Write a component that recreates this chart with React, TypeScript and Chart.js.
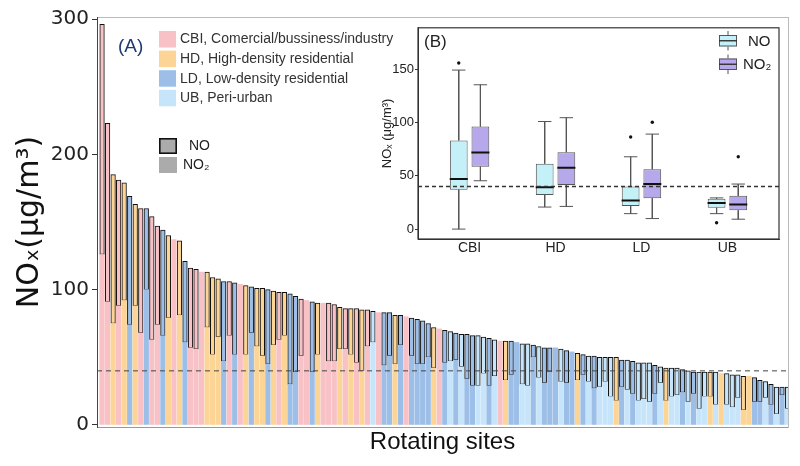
import React, { useEffect, useRef } from 'react';
import { Chart, registerables } from 'chart.js';

Chart.register(...registerables);

// ---------------- Panel (A) data ----------------
const SITE_CATEGORY = [
  'CBI', 'CBI', 'HD', 'CBI', 'HD', 'LD', 'HD', 'CBI', 'LD', 'CBI',
  'CBI', 'LD', 'HD', 'CBI', 'HD', 'LD', 'CBI', 'CBI', 'CBI', 'HD',
  'HD', 'HD', 'LD', 'CBI', 'LD', 'CBI', 'HD', 'LD', 'HD', 'HD',
  'LD', 'HD', 'CBI', 'HD', 'LD', 'LD', 'CBI', 'CBI', 'LD', 'HD',
  'CBI', 'CBI', 'CBI', 'HD', 'CBI', 'HD', 'CBI', 'HD', 'CBI', 'UB',
  'CBI', 'LD', 'LD', 'HD', 'LD', 'CBI', 'LD', 'LD', 'LD', 'LD',
  'HD', 'CBI', 'LD', 'UB', 'LD', 'UB', 'LD', 'LD', 'UB', 'UB',
  'LD', 'UB', 'CBI', 'HD', 'LD', 'LD', 'UB', 'UB', 'LD', 'UB',
  'LD', 'LD', 'LD', 'UB', 'LD', 'LD', 'HD', 'LD', 'UB', 'LD',
  'UB', 'UB', 'UB', 'HD', 'LD', 'UB', 'LD', 'UB', 'UB', 'UB',
  'LD', 'UB', 'HD', 'UB', 'UB', 'LD', 'UB', 'LD', 'UB', 'UB',
  'HD', 'UB', 'HD', 'UB', 'UB', 'UB', 'HD', 'HD', 'LD', 'LD',
  'UB', 'LD', 'UB', 'LD', 'UB',
];

const NO2_VALUES = [
  126, 91, 75, 88, 92, 74, 88, 68, 100, 63,
  74, 66, 79, 137, 81, 61, 57, 56, 113, 72,
  52, 65, 47, 66, 52, 104, 52, 68, 58, 51,
  45, 59, 63, 66, 30, 39, 51, 92, 39, 52,
  90, 47, 47, 56, 56, 52, 46, 40, 58, 61,
  83, 44, 51, 45, 59, 80, 51, 45, 45, 50,
  42, 71, 46, 47, 48, 43, 34, 29, 29, 38,
  29, 36, 62, 33, 37, 61, 30, 29, 50, 35,
  31, 39, 57, 32, 31, 54, 33, 37, 32, 27,
  28, 32, 21, 18, 28, 26, 23, 18, 19, 17,
  23, 31, 18, 21, 22, 24, 17, 23, 12, 21,
  21, 15, 38, 15, 13, 20, 11, 36, 17, 17,
  20, 15, 8, 22, 12,
];

const NO_VALUES = [
  170, 132, 110, 93, 87, 95, 75, 92, 60, 91,
  73, 78, 61, null, 55, 60, 59, 59, null, 41,
  57, 43, 59, 40, 53, null, 51, 34, 43, 50,
  55, 40, 35, 32, 67, 56, 42, null, 52, 38,
  null, 43, 42, 31, 30, 34, 40, 45, 27, 23,
  null, 39, 32, 36, 22, null, 28, 33, 32, 25,
  30, null, 24, 22, 20, 24, 33, 37, 37, 27,
  35, 27, null, 29, 25, null, 30, 31, 9, 23,
  26, 18, null, 24, 24, null, 20, 15, 19, 24,
  22, 18, 29, 32, 20, 22, 24, 28, 27, 29,
  21, 12, 24, 21, 20, 17, 23, 16, 27, 18,
  18, 24, null, 23, 24, 17, 25, null, 18, 16,
  12, 15, 20, 6, 16,
];

const Y_TICKS = [0, 100, 200, 300];
const LIMIT_VALUE = 40;

const CATEGORY_KEYS = ['CBI', 'HD', 'LD', 'UB'];
const CATEGORY_LABELS = [
  'CBI, Comercial/bussiness/industry',
  'HD, High-density residential',
  'LD, Low-density residential',
  'UB, Peri-urban',
];
const CATEGORY_COLORS = ['#f7c1c6', '#fcd496', '#9dbfe7', '#c7e5fa'];

// ---------------- Panel (B) data ----------------
const GROUPS = ['CBI', 'HD', 'LD', 'UB'];
const NO_LOW = [0, 20.7, 14.5, 14.5];
const NO_Q1 = [37, 32, 21.6, 20];
const NO_MEDIAN = [47, 39.2, 26.9, 24.4];
const NO_Q3 = [83.3, 61.4, 40.1, 28.4];
const NO_HIGH = [149.3, 101, 67.9, 29.3];
const NO_OUTLIERS = [[156], [], [86.5], [5.9]];

const NO2_LOW = [45.4, 21.3, 9.9, 9.3];
const NO2_Q1 = [58.6, 41.4, 29, 17.6];
const NO2_MEDIAN = [72, 57.7, 42.3, 23.1];
const NO2_Q3 = [96.3, 72.2, 56.2, 31.2];
const NO2_HIGH = [135.5, 104.6, 89.2, 42.3];
const NO2_OUTLIERS = [[], [], [100.3], [67.9]];

const INSET_TICKS = [0, 50, 100, 150];

const NO_BOX_COLOR = '#c4f0f8';
const NO2_BOX_COLOR = '#b6a8ea';

const FONT = '"Liberation Sans", Arial, Helvetica, sans-serif';
const WIDE_FONT = '"DejaVu Sans", "Liberation Sans", sans-serif';

const DODGE = 0.126;
const BOX_HALF = 0.105;
const CAP_HALF = 0.078;

const colorFor = (c: string) => CATEGORY_COLORS[CATEGORY_KEYS.indexOf(c)];

function whiskerPoints(offset: number, low: number[], q1: number[], q3: number[], high: number[]) {
  const pts: any[] = [];
  GROUPS.forEach((_, i) => {
    const x = i + 1 + offset;
    pts.push({ x, y: high[i] }, { x, y: q3[i] }, { x, y: null });
    pts.push({ x, y: q1[i] }, { x, y: low[i] }, { x, y: null });
    pts.push({ x: x - CAP_HALF, y: high[i] }, { x: x + CAP_HALF, y: high[i] }, { x, y: null });
    pts.push({ x: x - CAP_HALF, y: low[i] }, { x: x + CAP_HALF, y: low[i] }, { x, y: null });
  });
  return pts;
}

function medianPoints(offset: number, med: number[]) {
  const pts: any[] = [];
  GROUPS.forEach((_, i) => {
    const x = i + 1 + offset;
    pts.push({ x: x - BOX_HALF, y: med[i] }, { x: x + BOX_HALF, y: med[i] }, { x, y: null });
  });
  return pts;
}

function outlierPoints(offset: number, out: number[][]) {
  const pts: any[] = [];
  out.forEach((arr, i) => arr.forEach((v) => pts.push({ x: i + 1 + offset, y: v })));
  return pts;
}

const mainDecor = {
  id: 'mainDecor',
  afterDraw(chart: any) {
    const ctx = chart.ctx;
    ctx.save();
    ctx.textBaseline = 'middle';
    ctx.textAlign = 'left';
    ctx.font = `19px ${FONT}`;
    ctx.fillStyle = '#1f3a70';
    ctx.fillText('(A)', 118, 47);

    ctx.font = `14px ${FONT}`;
    CATEGORY_LABELS.forEach((label, i) => {
      const y = 31 + i * 19.6;
      ctx.fillStyle = CATEGORY_COLORS[i];
      ctx.fillRect(159, y, 17, 16.5);
      ctx.fillStyle = '#333';
      ctx.fillText(label, 180, y + 8.5);
    });

    ctx.fillStyle = '#ababab';
    ctx.fillRect(159, 138, 18, 16);
    ctx.strokeStyle = '#111';
    ctx.lineWidth = 1.6;
    ctx.strokeRect(159.8, 138.8, 16.4, 14.4);
    ctx.fillStyle = '#ababab';
    ctx.fillRect(159, 157, 18, 16);
    ctx.fillStyle = '#222';
    ctx.fillText('NO', 189, 146.5);
    ctx.fillText('NO₂', 183, 165);
    ctx.restore();
  },
};

const insetDecor = {
  id: 'insetDecor',
  afterDraw(chart: any) {
    const ctx = chart.ctx;
    const a = chart.chartArea;
    ctx.save();
    ctx.strokeStyle = '#333';
    ctx.lineWidth = 1.2;
    ctx.strokeRect(a.left, a.top, a.right - a.left, a.bottom - a.top);

    ctx.textBaseline = 'middle';
    ctx.textAlign = 'left';
    ctx.font = `17px ${FONT}`;
    ctx.fillStyle = '#222';
    ctx.fillText('(B)', 64, 23);

    const keys = [
      { fill: NO_BOX_COLOR, top: 16, label: 'NO', tx: 388 },
      { fill: NO2_BOX_COLOR, top: 39.5, label: 'NO₂', tx: 383 },
    ];
    ctx.font = `15px ${FONT}`;
    keys.forEach((k) => {
      const x0 = 359;
      const w = 18;
      const h = 11.5;
      const cx = x0 + w / 2;
      ctx.strokeStyle = '#555';
      ctx.lineWidth = 1;
      ctx.beginPath();
      ctx.moveTo(cx, k.top - 4);
      ctx.lineTo(cx, k.top);
      ctx.moveTo(cx, k.top + h);
      ctx.lineTo(cx, k.top + h + 4);
      ctx.stroke();
      ctx.fillStyle = k.fill;
      ctx.fillRect(x0, k.top, w, h);
      ctx.strokeRect(x0 + 0.5, k.top + 0.5, w - 1, h - 1);
      ctx.strokeStyle = '#333';
      ctx.lineWidth = 1.4;
      ctx.beginPath();
      ctx.moveTo(x0, k.top + h / 2);
      ctx.lineTo(x0 + w, k.top + h / 2);
      ctx.stroke();
      ctx.fillStyle = '#222';
      ctx.fillText(k.label, k.tx, k.top + h / 2 + 1);
    });
    ctx.restore();
  },
};

export default function App() {
  const mainRef = useRef<HTMLCanvasElement>(null);
  const insetRef = useRef<HTMLCanvasElement>(null);

  useEffect(() => {
    Chart.defaults.font.family = FONT;
    const labels = SITE_CATEGORY.map((_, i) => `Site ${i + 1}`);
    const colors = SITE_CATEGORY.map(colorFor);

    const main = new Chart(mainRef.current as HTMLCanvasElement, {
      type: 'bar',
      data: {
        labels,
        datasets: [
          {
            type: 'line',
            label: 'limit',
            xAxisID: 'x2',
            yAxisID: 'y',
            data: [{ x: 0, y: LIMIT_VALUE }, { x: 1, y: LIMIT_VALUE }] as any,
            borderColor: '#444',
            borderWidth: 1,
            borderDash: [5, 4],
            pointRadius: 0,
            order: 0,
          } as any,
          {
            label: 'NO2',
            xAxisID: 'x',
            data: NO2_VALUES,
            backgroundColor: colors,
            borderWidth: 0,
            barThickness: 4.6,
            order: 1,
          },
          {
            label: 'NO',
            xAxisID: 'x',
            data: NO_VALUES as any,
            backgroundColor: colors,
            borderColor: '#111',
            borderWidth: 1,
            borderSkipped: false,
            barThickness: 4.6,
            order: 1,
          },
        ],
      },
      options: {
        responsive: false,
        animation: false,
        events: [],
        layout: { padding: { top: 17, right: 12, left: 0, bottom: 0 } },
        plugins: { legend: { display: false }, tooltip: { enabled: false } },
        scales: {
          x: {
            type: 'category',
            stacked: true,
            offset: true,
            ticks: { display: false },
            grid: { display: true, drawOnChartArea: false, drawTicks: false, offset: true },
            border: { color: '#999', width: 1 },
            title: {
              display: true,
              text: 'Rotating sites',
              font: { family: FONT, size: 24 },
              color: '#111',
              padding: { top: 0, bottom: 9 },
            },
            afterFit: (s: any) => { s.height = 39; },
          },
          x2: {
            type: 'linear',
            position: 'top',
            offset: false,
            min: 0,
            max: 1,
            ticks: { display: false },
            grid: { display: true, drawOnChartArea: false, drawTicks: false, offset: false },
            border: { color: '#bbb', width: 1 },
            afterFit: (s: any) => { s.height = 0; },
          },
          y: {
            stacked: true,
            min: -1.5,
            max: 301.5,
            afterBuildTicks: (s: any) => { s.ticks = Y_TICKS.map((v) => ({ value: v })); },
            afterFit: (s: any) => { s.width = 97; },
            ticks: { font: { family: WIDE_FONT, size: 20 }, color: '#222', padding: 3 },
            grid: { display: true, drawOnChartArea: false, drawTicks: true, tickLength: 5, color: '#333' },
            border: { color: '#444', width: 1 },
            title: {
              display: true,
              text: 'NOₓ(μg/m³)',
              font: { family: WIDE_FONT, size: 30 },
              color: '#111',
              padding: { top: 12, bottom: 0 },
            },
          },
          yR: {
            type: 'linear',
            position: 'right',
            min: 0,
            max: 1,
            ticks: { display: false },
            grid: { display: true, drawOnChartArea: false, drawTicks: false },
            border: { color: '#bbb', width: 1 },
            afterFit: (s: any) => { s.width = 0; },
          },
        },
      } as any,
      plugins: [mainDecor],
    });

    const boxData = (offset: number, q1: number[], q3: number[]) =>
      GROUPS.map((_, i) => ({ x: i + 1 + offset, y: [q1[i], q3[i]] }));

    const inset = new Chart(insetRef.current as HTMLCanvasElement, {
      type: 'bar',
      data: {
        datasets: [
          {
            type: 'line',
            label: 'limit',
            data: [{ x: 0.4, y: LIMIT_VALUE }, { x: 4.6, y: LIMIT_VALUE }],
            borderColor: '#333',
            borderWidth: 1.3,
            borderDash: [4, 3],
            pointRadius: 0,
            order: 0,
          } as any,
          {
            type: 'line',
            label: 'NO median',
            data: medianPoints(-DODGE, NO_MEDIAN),
            borderColor: '#111',
            borderWidth: 2,
            pointRadius: 0,
            spanGaps: false,
            order: 1,
          } as any,
          {
            type: 'line',
            label: 'NO2 median',
            data: medianPoints(DODGE, NO2_MEDIAN),
            borderColor: '#111',
            borderWidth: 2,
            pointRadius: 0,
            spanGaps: false,
            order: 1,
          } as any,
          {
            type: 'scatter',
            label: 'outliers',
            data: [...outlierPoints(-DODGE, NO_OUTLIERS), ...outlierPoints(DODGE, NO2_OUTLIERS)],
            backgroundColor: '#111',
            borderWidth: 0,
            pointRadius: 1.7,
            order: 2,
          } as any,
          {
            label: 'NO',
            data: boxData(-DODGE, NO_Q1, NO_Q3) as any,
            backgroundColor: NO_BOX_COLOR,
            borderColor: '#555',
            borderWidth: 1,
            borderSkipped: false,
            grouped: false,
            categoryPercentage: 1,
            barPercentage: 0.82,
            order: 3,
          } as any,
          {
            label: 'NO2',
            data: boxData(DODGE, NO2_Q1, NO2_Q3) as any,
            backgroundColor: NO2_BOX_COLOR,
            borderColor: '#555',
            borderWidth: 1,
            borderSkipped: false,
            grouped: false,
            categoryPercentage: 1,
            barPercentage: 0.82,
            order: 3,
          } as any,
          {
            type: 'line',
            label: 'NO whiskers',
            data: whiskerPoints(-DODGE, NO_LOW, NO_Q1, NO_Q3, NO_HIGH),
            borderColor: '#555',
            borderWidth: 1,
            pointRadius: 0,
            spanGaps: false,
            order: 4,
          } as any,
          {
            type: 'line',
            label: 'NO2 whiskers',
            data: whiskerPoints(DODGE, NO2_LOW, NO2_Q1, NO2_Q3, NO2_HIGH),
            borderColor: '#555',
            borderWidth: 1,
            pointRadius: 0,
            spanGaps: false,
            order: 4,
          } as any,
        ],
      },
      options: {
        responsive: false,
        animation: false,
        events: [],
        layout: { padding: { top: 6, right: 7, left: 0, bottom: 0 } },
        plugins: { legend: { display: false }, tooltip: { enabled: false } },
        scales: {
          x: {
            type: 'linear',
            offset: false,
            min: 0.4,
            max: 4.6,
            afterBuildTicks: (s: any) => { s.ticks = GROUPS.map((_, i) => ({ value: i + 1 })); },
            ticks: {
              callback: (_v: any, i: number) => GROUPS[i],
              font: { family: FONT, size: 14 },
              color: '#222',
              padding: 1,
              maxRotation: 0,
            },
            grid: { display: true, drawOnChartArea: false, drawTicks: false, offset: false },
            border: { color: '#333', width: 1 },
            afterFit: (s: any) => { s.height = 30; },
          },
          y: {
            type: 'linear',
            min: -9.3,
            max: 189,
            afterBuildTicks: (s: any) => { s.ticks = INSET_TICKS.map((v) => ({ value: v })); },
            afterFit: (s: any) => { s.width = 58; },
            ticks: { font: { family: FONT, size: 13 }, color: '#222', padding: 1 },
            grid: { display: true, drawOnChartArea: false, drawTicks: true, tickLength: 3, color: '#333' },
            border: { color: '#333', width: 1 },
            title: {
              display: true,
              text: 'NOₓ (μg/m³)',
              font: { family: FONT, size: 13 },
              color: '#222',
              padding: { top: 20, bottom: 0 },
            },
          },
        },
      } as any,
      plugins: [insetDecor],
    });

    return () => {
      main.destroy();
      inset.destroy();
    };
  }, []);

  return (
    <div style={{ position: 'absolute', left: 0, top: 0, width: 800, height: 466, background: '#fff' }}>
      <canvas ref={mainRef} width={800} height={466} style={{ position: 'absolute', left: 0, top: 0 }} />
      <canvas ref={insetRef} width={426} height={250} style={{ position: 'absolute', left: 360, top: 19 }} />
    </div>
  );
}
